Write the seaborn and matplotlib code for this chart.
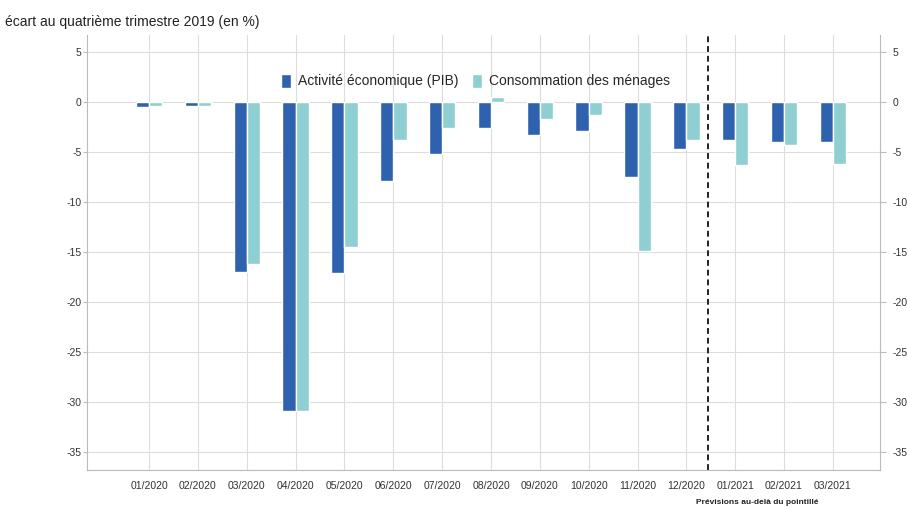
import matplotlib
matplotlib.use("Agg")
import matplotlib.pyplot as plt
import seaborn as sns
import pandas as pd

months = ["01/2020", "02/2020", "03/2020", "04/2020", "05/2020", "06/2020", "07/2020",
          "08/2020", "09/2020", "10/2020", "11/2020", "12/2020", "01/2021", "02/2021", "03/2021"]
pib = [-0.5, -0.4, -17.0, -30.9, -17.1, -7.9, -5.2, -2.6, -3.3, -2.9, -7.5, -4.7, -3.8, -4.0, -4.0]
conso = [-0.4, -0.4, -16.2, -30.9, -14.5, -3.8, -2.6, 0.5, -1.7, -1.3, -14.9, -3.8, -6.3, -4.3, -6.2]
series = ["Activité économique (PIB)", "Consommation des ménages"]
yticks = [5, 0, -5, -10, -15, -20, -25, -30, -35]

df = pd.DataFrame({
    "mois": months * 2,
    "valeur": pib + conso,
    "serie": [series[0]] * len(months) + [series[1]] * len(months),
})

sns.set_style("white")
plt.rcParams['font.family'] = ['Liberation Sans', 'DejaVu Sans']

fig = plt.figure(figsize=(9.07, 5.08), dpi=100)
ax = fig.add_axes([0.096, 0.075, 0.874, 0.856])

sns.barplot(data=df, x="mois", y="valeur", hue="serie", order=months, hue_order=series,
            palette=["#2F62AE", "#8FCFD1"], width=0.54, saturation=1, ax=ax, legend=True)

ax.set_ylim(-36.8, 6.7)
ax.set_xlim(-1.27, 14.96)
ax.set_yticks(yticks)
ax.set_yticklabels([str(t) for t in yticks], fontsize=7.5, color="#333333")
ax.set_xticks(range(len(months)))
ax.set_xticklabels(months, fontsize=7.5, color="#333333")
ax.set_xlabel("")
ax.set_ylabel("")
ax.grid(True, color="#DDDDDD", linewidth=0.8)
ax.set_axisbelow(True)
ax.tick_params(axis="x", length=0, pad=8)
ax.tick_params(axis="y", length=3, color="#BBBBBB", pad=1)
for s in ["left", "bottom", "right"]:
    ax.spines[s].set_color("#BBBBBB")
    ax.spines[s].set_linewidth(0.8)
ax.spines["top"].set_visible(False)

ax2 = ax.twinx()
ax2.set_ylim(ax.get_ylim())
ax2.set_yticks(yticks)
ax2.set_yticklabels([str(t) for t in yticks], fontsize=7.5, color="#333333")
ax2.tick_params(axis="y", length=4, color="#BBBBBB", pad=5)
for s in ["left", "bottom", "right", "top"]:
    ax2.spines[s].set_visible(False)

ax.axvline(11.45, color="#222222", linestyle=(0, (3, 2)), linewidth=1.4)

leg = ax.legend(loc="upper center", bbox_to_anchor=(0.49, 0.94), ncol=2, frameon=False,
                fontsize=10, handlelength=0.7, handleheight=1.2, columnspacing=1.0, handletextpad=0.5)

fig.text(0.006, 0.957, "écart au quatrième trimestre 2019 (en %)", fontsize=10, color="#222222", va="center")
ax.text(12.45, -0.075, "Prévisions au-delà du pointillé", transform=ax.get_xaxis_transform(),
        fontsize=6, fontweight="bold", ha="center", va="center", color="#222222")

fig.savefig("out.png", dpi=100)
